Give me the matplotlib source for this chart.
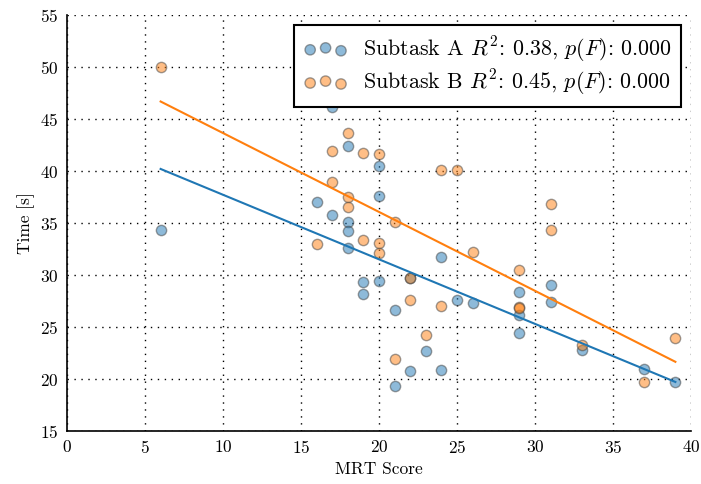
import numpy as np
import matplotlib
matplotlib.use('Agg')
import matplotlib.pyplot as plt

matplotlib.rcParams.update({
    'font.family': 'serif',
    'font.serif': ['cmr10'],
    'mathtext.fontset': 'cm',
    'axes.formatter.use_mathtext': True,
    'font.size': 12.5,
})

# MRT score vs. completion time per participant
mrt_a = [6, 16, 17, 17, 18, 18, 18, 18, 19, 19, 20, 20, 20, 21, 21,
         22, 22, 23, 24, 24, 25, 26, 29, 29, 29, 31, 31, 33, 37, 39]
time_a = [34.3, 37.0, 46.2, 35.8, 42.4, 35.1, 34.2, 32.6, 29.3, 28.2, 40.5, 37.6, 29.45, 26.6, 19.3,
          29.7, 20.8, 22.7, 31.7, 20.9, 27.6, 27.3, 28.4, 26.2, 24.4, 29.0, 27.4, 22.8, 21.0, 19.7]

mrt_b = [6, 16, 17, 17, 18, 18, 18, 18, 19, 19, 20, 20, 20, 21, 21,
         22, 22, 23, 24, 24, 25, 26, 29, 29, 29, 31, 31, 33, 37, 39]
time_b = [50.0, 33.0, 41.9, 38.9, 48.7, 43.7, 37.5, 36.5, 41.7, 33.4, 41.6, 33.05, 32.1, 35.1, 21.9,
          29.7, 27.6, 24.2, 40.1, 27.0, 40.1, 32.2, 30.5, 26.9, 26.8, 36.8, 34.3, 23.3, 19.7, 23.9]

labels = [r'Subtask A $R^2$: 0.38, $p(F)$: 0.000',
          r'Subtask B $R^2$: 0.45, $p(F)$: 0.000']

fig = plt.figure(figsize=(7.01, 4.84), dpi=100)
ax = fig.add_subplot(111)
fig.subplots_adjust(left=0.0956, right=0.9857, top=0.969, bottom=0.1095)

colors = ['#1f77b4', '#ff7f0e']
series = [(mrt_a, time_a), (mrt_b, time_b)]

for (x, y), c, lab in zip(series, colors, labels):
    ax.scatter(x, y, s=55, c=c, alpha=0.5, edgecolors='#404040', linewidths=1.0,
               label=lab, zorder=3)

# least-squares fit per subtask, drawn over the observed MRT range
for (x, y), c in zip(series, colors):
    x = np.asarray(x, float)
    slope, icpt = np.polyfit(x, y, 1)
    xs = np.array([x.min(), x.max()])
    ax.plot(xs, slope * xs + icpt, color=c, lw=1.5, zorder=4)

ax.set_xlim(0, 40)
ax.set_ylim(15, 55)
ax.set_xticks(range(0, 41, 5))
ax.set_yticks(range(15, 56, 5))
ax.tick_params(length=0, pad=6)
ax.grid(True, linestyle=(0, (1, 4)), color='black', linewidth=1.0)
ax.set_axisbelow(True)
for side in ['top', 'right']:
    ax.spines[side].set_visible(False)
for side in ['left', 'bottom']:
    ax.spines[side].set_linewidth(1.2)

ax.set_xlabel('MRT Score')
ax.set_ylabel('Time [s]')

leg = ax.legend(loc='upper right', fontsize=15.85, fancybox=False, framealpha=1,
                edgecolor='black', borderaxespad=0.45, handletextpad=0.7,
                scatterpoints=3, labelspacing=0.15, borderpad=0.42)
leg.get_frame().set_linewidth(1.5)

fig.savefig('out.png', dpi=100)
